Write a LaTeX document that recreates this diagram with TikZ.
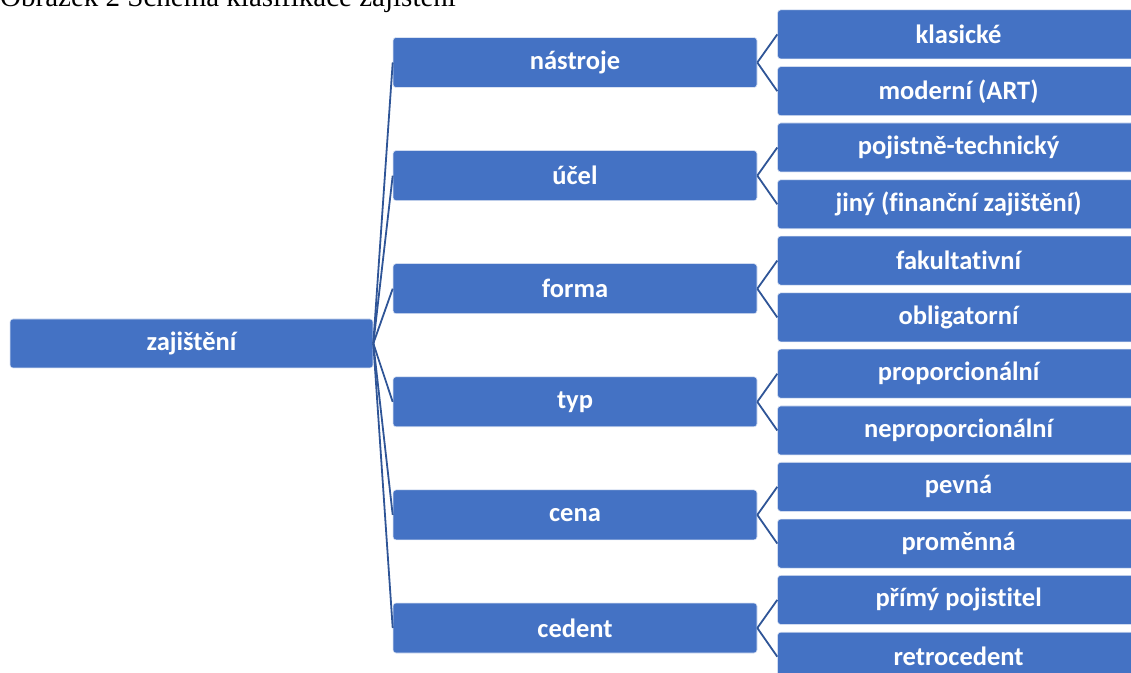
\documentclass[tikz,border=0pt]{standalone}
\usepackage{fontspec}
\setmainfont{Carlito}[Ligatures=NoCommon]
\newfontfamily\capfont{Liberation Serif}
\usetikzlibrary{positioning}
\definecolor{boxblue}{HTML}{4472C4}
\definecolor{lineblue}{HTML}{2F5597}

\begin{document}
\begin{tikzpicture}[x=1pt,y=1pt]
\tikzset{box/.style={rectangle, rounded corners=3pt, fill=boxblue, draw=white!80!boxblue, line width=0.6pt,
			text=white, font=\bfseries\fontsize{26.5}{30}\selectfont, align=center, inner sep=0pt},
		root/.style={box, minimum width=363pt, minimum height=49pt},
		group/.style={box, minimum width=364pt, minimum height=50pt},
		leaf/.style={box, minimum width=362pt, minimum height=49pt},
		link/.style={draw=lineblue, line width=1.8pt}}
\useasboundingbox (0,0) rectangle (1131,672);
\clip (0,0) rectangle (1131,672);
% caption, cut at the top
\node[anchor=base west, inner sep=0pt, font=\capfont\fontsize{29}{29}\selectfont] (cap) at (0,665) {Obrázek 2 Schéma klasifikace zajištění};
% root
\node[root] (zaj) at (191.5,328.5) {zajištění};
% groups
\node[group] (nast) at (575,609.5) {nástroje};
\node[group, below=62.5pt of nast] (ucel) {účel};
\node[group, below=62.5pt of ucel] (forma) {forma};
\node[group, below=62.5pt of forma] (typ) {typ};
\node[group, below=62.5pt of typ] (cena) {cena};
\node[group, below=62.5pt of cena] (ced) {cedent};
% leaves
\node[leaf, anchor=west] (klas) at ([xshift=20pt, yshift=28.1pt]nast.east) {klasické};
\node[leaf, below=7.2pt of klas] (mod) {moderní (ART)};
\node[leaf, anchor=west] (pojt) at ([xshift=20pt, yshift=28.1pt]ucel.east) {pojistně-technický};
\node[leaf, below=7.2pt of pojt] (jiny) {jiný (finanční zajištění)};
\node[leaf, anchor=west] (fak) at ([xshift=20pt, yshift=28.1pt]forma.east) {fakultativní};
\node[leaf, below=7.2pt of fak] (obl) {obligatorní};
\node[leaf, anchor=west] (prop) at ([xshift=20pt, yshift=28.1pt]typ.east) {proporcionální};
\node[leaf, below=7.2pt of prop] (neprop) {neproporcionální};
\node[leaf, anchor=west] (pev) at ([xshift=20pt, yshift=28.1pt]cena.east) {pevná};
\node[leaf, below=7.2pt of pev] (prom) {proměnná};
\node[leaf, anchor=west] (prim) at ([xshift=20pt, yshift=28.1pt]ced.east) {přímý pojistitel};
\node[leaf, below=7.2pt of prim] (retro) {retrocedent};
% connectors
\foreach \g in {nast, ucel, forma, typ, cena, ced}
	\draw[link] (zaj.east) -- (\g.west);
\draw[link] (nast.east) -- (klas.west);
\draw[link] (nast.east) -- (mod.west);
\draw[link] (ucel.east) -- (pojt.west);
\draw[link] (ucel.east) -- (jiny.west);
\draw[link] (forma.east) -- (fak.west);
\draw[link] (forma.east) -- (obl.west);
\draw[link] (typ.east) -- (prop.west);
\draw[link] (typ.east) -- (neprop.west);
\draw[link] (cena.east) -- (pev.west);
\draw[link] (cena.east) -- (prom.west);
\draw[link] (ced.east) -- (prim.west);
\draw[link] (ced.east) -- (retro.west);
\end{tikzpicture}
\end{document}
